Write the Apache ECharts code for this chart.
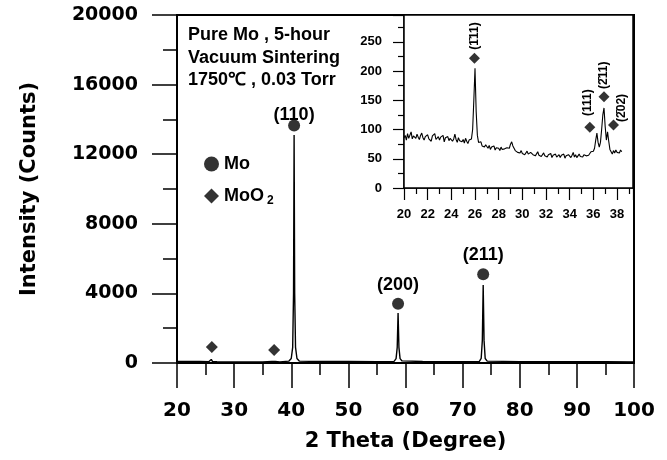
<!DOCTYPE html>
<html>
<head>
<meta charset="utf-8">
<script src="https://cdn.jsdelivr.net/npm/echarts@6/dist/echarts.min.js"></script>
<style>
  html, body { margin: 0; padding: 0; background: #fff; }
  #main { width: 667px; height: 460px; }
</style>
</head>
<body>
<div id="main"></div>
<script>
// XRD pattern, pure Mo after vacuum sintering

// main pattern (2 theta, counts)
const mainTheta = [20, 22, 24, 25.6, 25.9, 26.0, 26.2, 27, 30, 33,
  35, 36.6, 36.9, 37.2, 38, 39.6, 40.0, 40.25, 40.4, 40.5,
  40.6, 40.75, 41.0, 41.4, 45, 50, 55, 58.0, 58.35, 58.55,
  58.7, 58.85, 59.05, 59.4, 63, 68, 72.9, 73.25, 73.45, 73.6,
  73.75, 73.95, 74.3, 80, 85, 90, 95, 100];
const mainCounts = [88, 86, 82, 80, 150, 205, 90, 70, 58, 55,
  57, 90, 137, 96, 62, 110, 260, 900, 4000, 13100,
  4000, 900, 260, 110, 90, 85, 80, 95, 250, 900,
  2870, 900, 250, 120, 85, 75, 80, 260, 1300, 4480,
  1300, 260, 110, 80, 75, 70, 68, 65];

// Mo peak markers
const moTheta = [40.5, 58.7, 73.6];
const moMark = [13650, 3400, 5100];
const moHkl = ['(110)', '(200)', '(211)'];

// MoO2 markers on the main plot
const mo2Theta = [26.1, 37.0];
const mo2Mark = [920, 750];

// inset: 20.0 .. 38.4 step 0.1
const insetStart = 20.0;
const insetStep = 0.1;
const insetCounts = [
  86, 90, 82, 93, 85, 88, 96, 84, 89, 91,
  85, 92, 87, 83, 90, 94, 86, 82, 88, 85,
  91, 84, 87, 80, 89, 86, 93, 83, 85, 88,
  82, 87, 84, 90, 79, 86, 83, 88, 81, 85,
  87, 80, 84, 92, 83, 78, 86, 81, 84, 79,
  83, 77, 85, 80, 76, 82, 79, 84, 100, 150,
  205, 130, 90, 78, 76, 79, 72, 75, 70, 74,
  71, 68, 73, 66, 70, 67, 72, 65, 69, 66,
  68, 64, 70, 66, 63, 67, 65, 69, 72, 68,
  75, 79, 72, 68, 64, 66, 61, 63, 60, 64,
  59, 62, 57, 60, 63, 58, 56, 61, 59, 57,
  60, 55, 58, 62, 56, 59, 54, 57, 60, 55,
  58, 53, 57, 55, 59, 52, 56, 54, 58, 53,
  55, 57, 52, 56, 54, 58, 51, 55, 53, 57,
  54, 52, 56, 61, 53, 57, 52, 55, 58, 54,
  56, 53, 57, 60, 55, 58, 56, 59, 62, 60,
  63, 68, 82, 94, 78, 70, 78, 100, 125, 137,
  105, 82, 96, 80, 66, 62, 58, 64, 60, 65,
  61, 64, 60, 65, 62
];

// inset MoO2 markers and their (rotated) hkl labels
const insetMo2Theta = [25.95, 35.7, 36.9, 37.7];
const insetMo2Mark = [222, 104, 156, 108];
const insetHklTheta = [25.95, 35.55, 36.9, 38.4];
const insetHklPos = [260, 146, 193, 137];
const insetHkl = ['(1\u030411)', '(111)', '(2\u030411)', '(2\u030402)'];

const tickFont = 'DejaVu Sans';
const textFont = 'Liberation Sans';

let insetData = insetCounts.map((c, i) => [+(insetStart + i * insetStep).toFixed(1), c]);

let myChart = echarts.init(document.getElementById('main'));

let option = {
    animation: false,
    backgroundColor: '#fff',
    grid: [
        { left: 177, right: 33, top: 15, bottom: 97, show: true, borderColor: '#000', borderWidth: 2,
          containLabel: false, outerBoundsMode: 'none' },
        { left: 404, right: 34, top: 15, bottom: 272, show: true, backgroundColor: '#fff',
          borderColor: '#000', borderWidth: 1.5, containLabel: false, outerBoundsMode: 'none', z: 5 }
    ],
    legend: {
        orient: 'vertical',
        left: 199,
        top: 150,
        itemWidth: 15,
        itemHeight: 15,
        itemGap: 14,
        data: ['Mo', 'MoO2'],
        textStyle: {
            fontFamily: textFont, fontWeight: 'bold', fontSize: 18, color: '#000',
            rich: {
                a: { fontFamily: textFont, fontWeight: 'bold', fontSize: 18, color: '#000' },
                b: { fontFamily: textFont, fontWeight: 'bold', fontSize: 12, color: '#000', padding: [9, 0, 0, 3] }
            }
        },
        formatter: function (name) {
            return name === 'MoO2' ? '{a|MoO}{b|2}' : '{a|' + name + '}';
        }
    },
    graphic: [
        {
            type: 'text', left: 188, top: 24, z: 10,
            style: {
                text: 'Pure Mo , 5-hour\nVacuum Sintering\n1750\u2103 , 0.03 Torr',
                font: 'bold 18px "Liberation Sans"',
                lineHeight: 22.5,
                fill: '#000'
            }
        }
    ],
    xAxis: [
        {
            gridIndex: 0, type: 'value', min: 20, max: 100, interval: 10,
            name: '2 Theta (Degree)', nameLocation: 'middle', nameGap: 68,
            nameTextStyle: { fontFamily: tickFont, fontWeight: 'bold', fontSize: 21, color: '#000' },
            axisLine: { lineStyle: { color: '#000', width: 2 } },
            axisTick: { length: 25, lineStyle: { color: '#000', width: 1.5 } },
            minorTick: { show: true, splitNumber: 2, length: 12, lineStyle: { color: '#000', width: 1.5 } },
            axisLabel: { margin: 38, fontFamily: tickFont, fontWeight: 'bold', fontSize: 20, color: '#000' },
            splitLine: { show: false }
        },
        {
            gridIndex: 1, type: 'value', min: 20, max: 39.35, interval: 2,
            axisLine: { lineStyle: { color: '#000', width: 1.5 } },
            axisTick: { length: 12, lineStyle: { color: '#000', width: 1.2 } },
            minorTick: { show: true, splitNumber: 2, length: 6, lineStyle: { color: '#000', width: 1.2 } },
            axisLabel: {
                margin: 20, fontFamily: textFont, fontWeight: 'bold', fontSize: 13, color: '#000',
                showMaxLabel: false,
                formatter: v => (v % 2 === 0 ? String(v) : '')
            },
            splitLine: { show: false }
        }
    ],
    yAxis: [
        {
            gridIndex: 0, type: 'value', min: 0, max: 20000, interval: 4000,
            name: 'Intensity (Counts)', nameLocation: 'middle', nameGap: 137,
            nameTextStyle: { fontFamily: tickFont, fontWeight: 'bold', fontSize: 21, color: '#000' },
            axisLine: { lineStyle: { color: '#000', width: 2 } },
            axisTick: { length: 25, lineStyle: { color: '#000', width: 1.5 } },
            minorTick: { show: true, splitNumber: 2, length: 14, lineStyle: { color: '#000', width: 1.5 } },
            axisLabel: {
                margin: 39, fontFamily: tickFont, fontWeight: 'bold', fontSize: 19, color: '#000',
                formatter: v => String(v)
            },
            splitLine: { show: false }
        },
        {
            gridIndex: 1, type: 'value', min: 0, max: 296, interval: 50,
            axisLine: { lineStyle: { color: '#000', width: 1.5 } },
            axisTick: { length: 11, lineStyle: { color: '#000', width: 1.2 } },
            minorTick: { show: true, splitNumber: 2, length: 6, lineStyle: { color: '#000', width: 1.2 } },
            axisLabel: {
                margin: 22, fontFamily: textFont, fontWeight: 'bold', fontSize: 13, color: '#000',
                showMaxLabel: false,
                formatter: v => (v % 50 === 0 ? String(v) : '')
            },
            splitLine: { show: false }
        }
    ],
    series: [
        {
            name: 'pattern', type: 'line', xAxisIndex: 0, yAxisIndex: 0,
            data: mainTheta.map((t, i) => [t, mainCounts[i]]),
            showSymbol: false, symbol: 'none',
            lineStyle: { color: '#000', width: 1.4 }
        },
        {
            name: 'Mo', type: 'scatter', xAxisIndex: 0, yAxisIndex: 0,
            symbol: 'circle', symbolSize: 12,
            itemStyle: { color: '#000' },
            data: moTheta.map((t, i) => ({
                value: [t, moMark[i]],
                label: i === 0 ? { offset: [0, 9] } : {}
            })),
            label: {
                show: true, position: 'top', distance: 4,
                formatter: p => moHkl[p.dataIndex],
                fontFamily: textFont, fontWeight: 'bold', fontSize: 18, color: '#000',
                opacity: 1, textBorderWidth: 0
            },
            emphasis: { disabled: true },
            z: 6
        },
        {
            name: 'MoO2', type: 'scatter', xAxisIndex: 0, yAxisIndex: 0,
            symbol: 'diamond', symbolSize: 12,
            itemStyle: { color: '#000' },
            data: mo2Theta.map((t, i) => [t, mo2Mark[i]])
        },
        {
            name: 'inset', type: 'line', xAxisIndex: 1, yAxisIndex: 1,
            data: insetData, showSymbol: false, symbol: 'none',
            lineStyle: { color: '#000', width: 1.1 }, z: 6
        },
        {
            name: 'MoO2', type: 'scatter', xAxisIndex: 1, yAxisIndex: 1,
            symbol: 'diamond', symbolSize: 11,
            itemStyle: { color: '#000' },
            data: insetMo2Theta.map((t, i) => [t, insetMo2Mark[i]]), z: 6
        },
        {
            name: 'insetHkl', type: 'scatter', xAxisIndex: 1, yAxisIndex: 1,
            symbolSize: 0,
            data: insetHklTheta.map((t, i) => [t, insetHklPos[i]]),
            label: {
                show: true, position: 'inside', rotate: 90,
                formatter: p => insetHkl[p.dataIndex],
                fontFamily: textFont, fontWeight: 'bold', fontSize: 12, color: '#000',
                opacity: 1, textBorderWidth: 0
            },
            emphasis: { disabled: true },
            z: 7
        }
    ]
};

myChart.setOption(option);
</script>
</body>
</html>
